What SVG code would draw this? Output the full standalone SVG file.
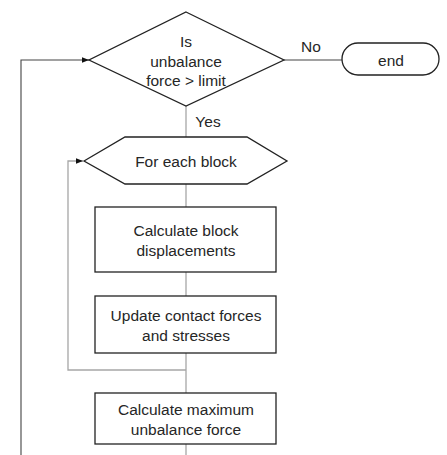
<svg xmlns="http://www.w3.org/2000/svg" width="447" height="455" viewBox="0 0 447 455">
<defs>
<style>
.shape{fill:#fff;stroke:#222;stroke-width:1.3}
.conn{fill:none;stroke:#a6a6a6;stroke-width:1.3}
.dark{fill:none;stroke:#444;stroke-width:1.1}
text{font-family:"Liberation Sans",Arial,sans-serif;font-size:15.5px;fill:#262626;text-anchor:middle;dominant-baseline:central}
</style>
<marker id="arr" viewBox="0 0 10 10" refX="10" refY="5" markerWidth="7" markerHeight="7" markerUnits="userSpaceOnUse" orient="auto">
<path d="M0,1 L10,5 L0,9 Z" fill="#111"/>
</marker>
</defs>
<rect width="447" height="455" fill="#fff"/>
<g id="connectors">
<path class="dark" d="M21,455 V60 H89" marker-end="url(#arr)"/>
<path class="dark" d="M284,60 H342"/>
<path class="conn" d="M186,106 V137"/>
<path class="conn" d="M186,184 V207"/>
<path class="conn" d="M186,272 V296"/>
<path class="conn" d="M186,353 V393"/>
<path class="conn" d="M186,370 H68 V161 H83" marker-end="url(#arr)"/>
<path class="conn" d="M186,444 V455"/>
<text x="311" y="46">No</text>
<text x="208" y="121">Yes</text>
</g>
<g id="decision">
<polygon class="shape" points="186,12 284,60 186,106 89,60"/>
<text x="186" y="41">Is</text>
<text x="186" y="61">unbalance</text>
<text x="186" y="80">force &gt; limit</text>
</g>
<g id="end">
<rect class="shape" x="342" y="43" width="97" height="32" rx="16" ry="16"/>
<text x="391" y="60">end</text>
</g>
<g id="foreach">
<polygon class="shape" points="84,161 125,137 247,137 287,161 247,184 125,184"/>
<text x="186" y="161">For each block</text>
</g>
<g id="calc-disp">
<rect class="shape" x="95" y="207" width="181" height="65"/>
<text x="186" y="230">Calculate block</text>
<text x="186" y="250">displacements</text>
</g>
<g id="update">
<rect class="shape" x="95" y="296" width="181" height="57"/>
<text x="186" y="315">Update contact forces</text>
<text x="186" y="335">and stresses</text>
</g>
<g id="calc-max">
<rect class="shape" x="95" y="393" width="181" height="51"/>
<text x="186" y="409">Calculate maximum</text>
<text x="186" y="429">unbalance force</text>
</g>
</svg>
